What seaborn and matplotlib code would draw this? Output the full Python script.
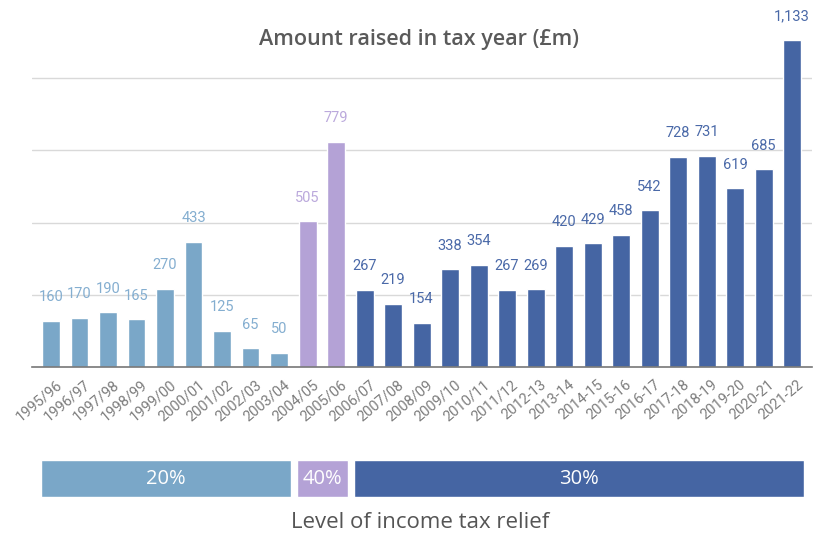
import matplotlib
matplotlib.use("Agg")
import matplotlib.pyplot as plt
import matplotlib.transforms as mtransforms
import pandas as pd
import seaborn as sns

years = ["1995/96", "1996/97", "1997/98", "1998/99", "1999/00", "2000/01",
         "2001/02", "2002/03", "2003/04", "2004/05", "2005/06", "2006/07",
         "2007/08", "2008/09", "2009/10", "2010/11", "2011/12", "2012-13",
         "2013-14", "2014-15", "2015-16", "2016-17", "2017-18", "2018-19",
         "2019-20", "2020-21", "2021-22"]
amounts = [160, 170, 190, 165, 270, 433, 125, 65, 50, 505, 779, 267, 219,
           154, 338, 354, 267, 269, 420, 429, 458, 542, 728, 731, 619, 685,
           1133]
relief = ["20%"] * 9 + ["40%"] * 2 + ["30%"] * 16

band_labels = ["20%", "40%", "30%"]
band_first = [0, 9, 11]
band_last = [8, 10, 26]

colors = {"20%": "#7aa7c8", "40%": "#b4a2d6", "30%": "#4565a3"}
label_colors = {"20%": "#84aed0", "40%": "#bba9dc", "30%": "#4a69a8"}

df = pd.DataFrame({"year": years, "amount": amounts, "relief": relief})

sns.set_theme(style="white")
plt.rcParams["font.family"] = ["Roboto", "DejaVu Sans"]

fig = plt.figure(figsize=(8.15, 5.35), dpi=100)
ax = fig.add_axes([32 / 815, 1 - 367 / 535, 780 / 815, 367 / 535])

sns.barplot(data=df, x="year", y="amount", hue="relief", palette=colors,
            dodge=False, width=0.63, legend=False, ax=ax, saturation=1)

ax.set_xlim(-0.667, 26.7)
ax.set_ylim(0, 1271)
ax.set_yticks([250, 500, 750, 1000])
ax.set_yticklabels([])
ax.tick_params(axis="y", length=0)
ax.grid(axis="y", color="#d9d9d9", linewidth=1)
ax.set_axisbelow(True)
for s in ["top", "right", "left"]:
    ax.spines[s].set_visible(False)
ax.spines["bottom"].set_color("#777777")
ax.spines["bottom"].set_linewidth(1.2)
ax.set_xlabel("")
ax.set_ylabel("")

for i, (v, r) in enumerate(zip(amounts, relief)):
    ax.annotate(f"{v:,}", (i, v), xytext=(0, 17), textcoords="offset points",
                ha="center", va="center", fontsize=10.5, color=label_colors[r])

ax.tick_params(axis="x", length=0, pad=0)
offset = mtransforms.ScaledTranslation(9 / 100, -16 / 100, fig.dpi_scale_trans)
for lbl in ax.get_xticklabels():
    lbl.set_rotation(40)
    lbl.set_ha("right")
    lbl.set_va("center")
    lbl.set_rotation_mode("anchor")
    lbl.set_fontsize(10.5)
    lbl.set_color("#7d7d7d")
    lbl.set_transform(lbl.get_transform() + offset)

# relief level band under the bars
bx = fig.add_axes([32 / 815, 38 / 535, 780 / 815, 37 / 535])
for lab, a, b in zip(band_labels, band_first, band_last):
    left = a - 0.36
    width = (b + 0.43) - left
    bx.barh(0, width, left=left, height=1, color=colors[lab])
    bx.text(left + width / 2, 0, lab, ha="center", va="center",
            color="white", fontsize=14.5, family=["Open Sans", "DejaVu Sans"])
bx.set_xlim(-0.667, 26.7)
bx.set_ylim(-0.5, 0.5)
bx.axis("off")

fig.text(0.514, 1 - 40 / 535, "Amount raised in tax year (£m)", ha="center",
         va="center", fontsize=15.5, color="#5a5a5a", fontweight="semibold",
         family=["Open Sans", "DejaVu Sans"])
fig.text(0.515, 1 - 522 / 535, "Level of income tax relief", ha="center",
         va="center", fontsize=16, color="#555555",
         family=["Open Sans", "DejaVu Sans"])

fig.savefig("out.png", dpi=100)
